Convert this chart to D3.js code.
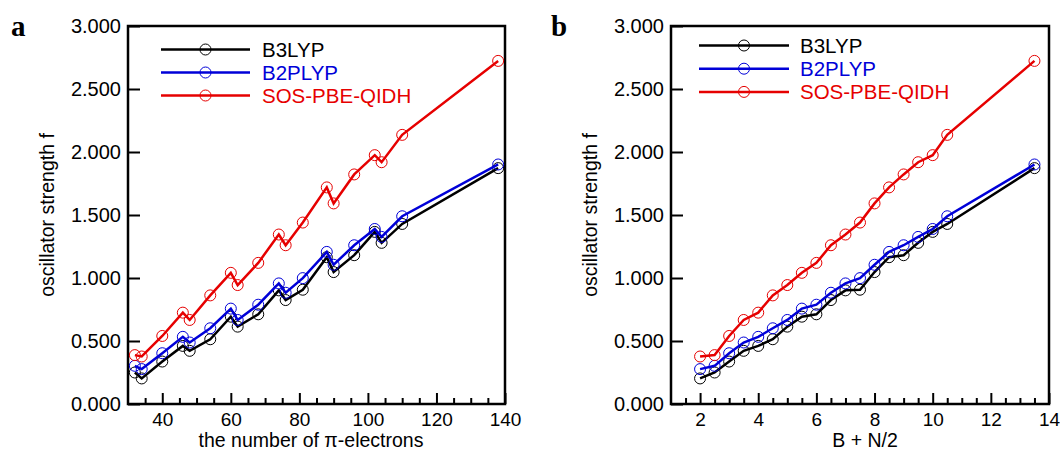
<!DOCTYPE html>
<html>
<head>
<meta charset="utf-8">
<script src="https://cdn.jsdelivr.net/npm/d3@7"></script>
<style>
  body { margin: 0; background: #fff; }
  svg { display: block; font-family: "Liberation Sans", Arial, Helvetica, sans-serif; }
</style>
</head>
<body>
<svg id="chart" width="1060" height="453"></svg>
<script>
// one entry per molecule, same order in every array
const piElectrons = [32, 34, 40, 46, 48, 54, 60, 62, 68, 74, 76, 81, 88, 90, 96, 102, 104, 110, 138];
const bPlusHalfN  = [2.5, 2, 3, 4, 3.5, 4.5, 5.5, 5, 6, 7, 6.5, 7.5, 8.5, 8, 9, 10, 9.5, 10.5, 13.5];
const b3lyp      = [0.250, 0.203, 0.337, 0.461, 0.422, 0.514, 0.693, 0.614, 0.712, 0.902, 0.825, 0.907, 1.165, 1.047, 1.181, 1.366, 1.279, 1.429, 1.872];
const b2plyp     = [0.303, 0.277, 0.403, 0.533, 0.488, 0.601, 0.757, 0.667, 0.788, 0.957, 0.883, 0.999, 1.207, 1.105, 1.260, 1.389, 1.326, 1.490, 1.901];
const sosPbeQidh = [0.388, 0.377, 0.540, 0.725, 0.667, 0.862, 1.041, 0.944, 1.120, 1.345, 1.260, 1.440, 1.719, 1.592, 1.822, 1.975, 1.919, 2.136, 2.723];

const seriesNames = ["B3LYP", "B2PLYP", "SOS-PBE-QIDH"];
const seriesValues = [b3lyp, b2plyp, sosPbeQidh];
const seriesColors = ["#000000", "#0000d8", "#e60000"];

const yTicks = [0, 0.5, 1, 1.5, 2, 2.5, 3];
const xTicksA = [40, 60, 80, 100, 120, 140];
const xTicksB = [2, 4, 6, 8, 10, 12, 14];

const svg = d3.select("#chart");

const drawPanel = function(opts) {
    const { left, right, top, bottom, xDomain, xs, majorTicks, minorStep,
            letter, letterX, xLabel, xLabelX, yLabelX, legend } = opts;

    const x = d3.scaleLinear().domain(xDomain).range([left, right]);
    const y = d3.scaleLinear().domain([0, 3]).range([bottom, top]);

    const g = svg.append("g");

    // minor x ticks
    const minor = d3.range(xDomain[0] + minorStep, xDomain[1], minorStep)
        .filter(v => !majorTicks.some(m => Math.abs(m - v) < 1e-6));
    g.append("g")
        .attr("transform", `translate(0,${bottom})`)
        .call(d3.axisBottom(x).tickValues(minor).tickSize(-6).tickFormat(""))
        .call(a => a.select(".domain").remove())
        .selectAll("line").attr("stroke-width", 2);

    // major x ticks with labels
    g.append("g")
        .attr("transform", `translate(0,${bottom})`)
        .call(d3.axisBottom(x).tickValues(majorTicks).tickSize(-11).tickPadding(9).tickFormat(d3.format("d")))
        .call(a => a.select(".domain").remove())
        .call(a => a.selectAll("line").attr("stroke-width", 2))
        .selectAll("text").attr("font-size", "19px").attr("fill", "#000");

    // y ticks
    g.append("g")
        .attr("transform", `translate(${left},0)`)
        .call(d3.axisLeft(y).tickValues(yTicks).tickSize(-12).tickPadding(7).tickFormat(d3.format(".3f")))
        .call(a => a.select(".domain").remove())
        .call(a => a.selectAll("line").attr("stroke-width", 2))
        .selectAll("text").attr("font-size", "20px").attr("fill", "#000");

    // frame
    g.append("rect")
        .attr("x", left).attr("y", top)
        .attr("width", right - left).attr("height", bottom - top)
        .attr("fill", "none").attr("stroke", "#000").attr("stroke-width", 2.5);

    // series
    seriesValues.forEach((vals, i) => {
        const pts = xs.map((xv, j) => ({ x: xv, v: vals[j] })).sort((a, b) => a.x - b.x);
        g.append("path")
            .datum(pts)
            .attr("fill", "none")
            .attr("stroke", seriesColors[i])
            .attr("stroke-width", 2.5)
            .attr("d", d3.line().x(d => x(d.x)).y(d => y(d.v)));
        g.append("g")
            .selectAll("circle")
            .data(pts)
            .join("circle")
            .attr("cx", d => x(d.x))
            .attr("cy", d => y(d.v))
            .attr("r", 5.5)
            .attr("fill", "none")
            .attr("stroke", seriesColors[i])
            .attr("stroke-width", 1);
    });

    // legend
    seriesNames.forEach((name, i) => {
        const ly = legend.y + i * legend.dy;
        g.append("line")
            .attr("x1", legend.x1).attr("x2", legend.x2)
            .attr("y1", ly).attr("y2", ly)
            .attr("stroke", seriesColors[i]).attr("stroke-width", 2.5);
        g.append("circle")
            .attr("cx", (legend.x1 + legend.x2) / 2).attr("cy", ly).attr("r", 5.5)
            .attr("fill", "none").attr("stroke", seriesColors[i]).attr("stroke-width", 1);
        g.append("text")
            .attr("x", legend.tx).attr("y", ly)
            .attr("dy", "0.36em")
            .attr("font-size", "20.5px")
            .attr("fill", seriesColors[i])
            .text(name);
    });

    // axis titles
    g.append("text")
        .attr("x", xLabelX).attr("y", 447)
        .attr("text-anchor", "middle")
        .attr("font-size", "19.5px")
        .text(xLabel);
    g.append("text")
        .attr("transform", `translate(${yLabelX},${(top + bottom) / 2}) rotate(-90)`)
        .attr("text-anchor", "middle")
        .attr("dy", "0.36em")
        .attr("font-size", "19.5px")
        .text("oscillator strength f");

    // panel letter
    g.append("text")
        .attr("x", letterX).attr("y", 35.5)
        .attr("font-family", "'Liberation Serif', 'Times New Roman', serif")
        .attr("font-weight", "bold")
        .attr("font-size", "29px")
        .text(letter);
};

drawPanel({
    left: 128, right: 505, top: 26, bottom: 404,
    xDomain: [30, 140], xs: piElectrons, majorTicks: xTicksA, minorStep: 5,
    letter: "a", letterX: 11, xLabel: "the number of \u03c0-electrons", xLabelX: 311, yLabelX: 47,
    legend: { x1: 161, x2: 250, tx: 262, y: 49.5, dy: 23 }
});

drawPanel({
    left: 671, right: 1049, top: 26, bottom: 404,
    xDomain: [1, 14], xs: bPlusHalfN, majorTicks: xTicksB, minorStep: 0.5,
    letter: "b", letterX: 551, xLabel: "B + N/2", xLabelX: 865, yLabelX: 590,
    legend: { x1: 699, x2: 789, tx: 800, y: 45.5, dy: 23.2 }
});
</script>
</body>
</html>
